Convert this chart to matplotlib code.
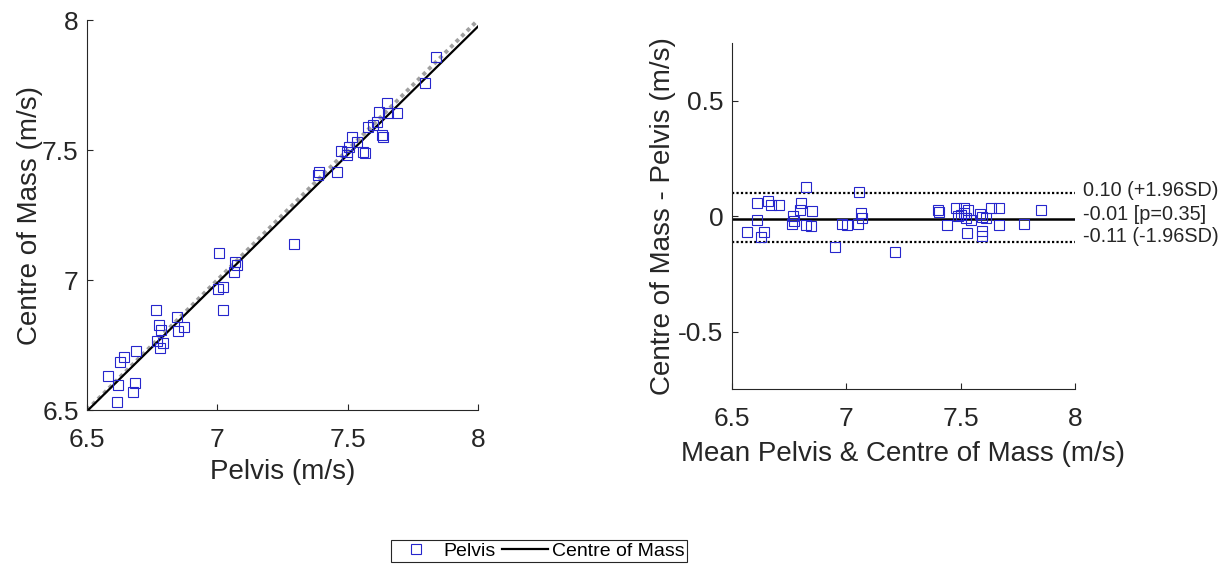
import numpy as np
from matplotlib import pyplot as plt
from matplotlib.ticker import FormatStrFormatter

plt.rcParams["font.family"] = ["Liberation Sans", "DejaVu Sans"]

# left panel: pelvis vs centre of mass speed (m/s)
pelvis = [7.007, 7.068, 7.074, 7.064, 7.294, 7.004, 7.020, 7.023, 6.765, 6.844,
          6.873, 6.848, 6.776, 6.784, 6.770, 6.790, 6.780, 6.687, 6.642, 6.627,
          6.582, 6.618, 6.684, 6.675, 6.614,
          7.838, 7.797, 7.650, 7.621, 7.688, 7.656, 7.611, 7.598, 7.579, 7.630,
          7.634, 7.515, 7.535, 7.506, 7.474, 7.496, 7.498, 7.560, 7.566, 7.391,
          7.385, 7.460]
com = [7.105, 7.070, 7.058, 7.032, 7.137, 6.964, 6.974, 6.885, 6.885, 6.857,
       6.820, 6.804, 6.827, 6.808, 6.767, 6.759, 6.737, 6.728, 6.703, 6.686,
       6.632, 6.596, 6.605, 6.570, 6.530,
       7.859, 7.759, 7.682, 7.647, 7.643, 7.641, 7.609, 7.596, 7.590, 7.558,
       7.551, 7.551, 7.532, 7.513, 7.497, 7.493, 7.481, 7.493, 7.487, 7.417,
       7.404, 7.417]

# right panel: Bland-Altman mean and difference
ba_mean = [6.822, 7.055, 6.608, 6.656, 6.670, 6.707, 6.804, 6.797, 6.851, 6.608,
           6.768, 6.772, 6.761, 6.826, 6.845, 6.567, 6.642, 6.625, 6.950, 6.982,
           7.001, 7.052, 7.066, 7.069, 7.215,
           7.401, 7.404, 7.481, 7.517, 7.532, 7.488, 7.500, 7.515, 7.525, 7.547,
           7.442, 7.583, 7.593, 7.612, 7.631, 7.670, 7.666, 7.777, 7.850, 7.529,
           7.593, 7.593]
ba_diff = [0.126, 0.106, 0.058, 0.068, 0.051, 0.048, 0.058, 0.029, 0.022, -0.014,
           0.000, -0.019, -0.033, -0.036, -0.043, -0.070, -0.068, -0.091, -0.135, -0.033,
           -0.036, -0.033, 0.015, -0.007, -0.153,
           0.029, 0.020, 0.037, 0.037, 0.029, 0.000, 0.007, 0.015, -0.007, -0.014,
           -0.036, 0.010, -0.004, -0.007, 0.037, 0.037, -0.036, -0.033, 0.029, -0.072,
           -0.065, -0.087]

bias = -0.01
upper_loa = 0.10
lower_loa = -0.11
p_value = 0.35

axis_col = "#262626"
blue = (0.15, 0.15, 0.8)

fig = plt.figure(figsize=(12.31, 5.66), dpi=100)
ax1 = fig.add_axes([0.0707, 0.2756, 0.3176, 0.689])
ax2 = fig.add_axes([0.5946, 0.3122, 0.2786, 0.6113])

lims = np.array([6.5, 8.0])
ax1.plot(lims, lims, color="#a0a0a0", lw=2.8, ls=(0, (1, 1)), zorder=1)
slope, intercept = np.polyfit(pelvis, com, 1)
h_line, = ax1.plot(lims, slope * lims + intercept, color="black", lw=1.6, zorder=2)
h_pts, = ax1.plot(pelvis, com, "s", mfc="none", mec=blue, ms=7.5, mew=0.8, zorder=3)
ax1.set_xlim(lims)
ax1.set_ylim(lims)
ax1.set_xlabel("Pelvis (m/s)", fontsize=20, labelpad=5)
ax1.set_ylabel("Centre of Mass (m/s)", fontsize=20, labelpad=-1)

ax2.axhline(bias, color="black", lw=1.8, zorder=2)
ax2.axhline(upper_loa, color="black", lw=1.6, ls=(0, (1, 1)), zorder=2)
ax2.axhline(lower_loa, color="black", lw=1.6, ls=(0, (1, 1)), zorder=2)
ax2.plot(ba_mean, ba_diff, "s", mfc="none", mec=blue, ms=7.5, mew=0.8, zorder=3)
ax2.set_xlim(6.5, 8)
ax2.set_ylim(-0.75, 0.75)
ax2.set_xlabel("Mean Pelvis & Centre of Mass (m/s)", fontsize=20, labelpad=7)
ax2.set_ylabel("Centre of Mass - Pelvis (m/s)", fontsize=20, labelpad=2)

labels = [(upper_loa, f"{upper_loa:.2f} (+1.96SD)", 2),
          (bias, f"{bias:.2f} [p={p_value:.2f}]", 3),
          (lower_loa, f"{lower_loa:.2f} (-1.96SD)", 4)]
for yv, txt, dy in labels:
    ax2.annotate(txt, xy=(8, yv), xytext=(5.5, dy), textcoords="offset points",
                 va="center", ha="left", fontsize=14.3, color=axis_col,
                 annotation_clip=False)

for ax in (ax1, ax2):
    ax.spines["top"].set_visible(False)
    ax.spines["right"].set_visible(False)
    for s in ("left", "bottom"):
        ax.spines[s].set_color(axis_col)
        ax.spines[s].set_linewidth(0.8)
    ax.tick_params(direction="in", length=4, width=0.8, colors=axis_col,
                   labelsize=19, pad=6)
    ax.tick_params(axis="x", pad=13)
    ax.xaxis.label.set_color(axis_col)
    ax.yaxis.label.set_color(axis_col)
    ax.xaxis.set_major_formatter(FormatStrFormatter("%g"))
    ax.yaxis.set_major_formatter(FormatStrFormatter("%g"))

ax1.set_xticks([6.5, 7, 7.5, 8])
ax1.set_yticks([6.5, 7, 7.5, 8])
ax2.set_xticks([6.5, 7, 7.5, 8])
ax2.set_yticks([-0.5, 0, 0.5])

leg = fig.legend([h_pts, h_line], ["Pelvis", "Centre of Mass"], ncol=2,
                 loc="center", bbox_to_anchor=(0.4379, 0.0265), fontsize=14,
                 handlelength=2.4, handletextpad=0.2, columnspacing=0.3,
                 borderpad=0.12, fancybox=False, framealpha=1)
leg.get_frame().set_edgecolor(axis_col)
leg.get_frame().set_linewidth(0.8)

fig.savefig("out.png", dpi=100)
